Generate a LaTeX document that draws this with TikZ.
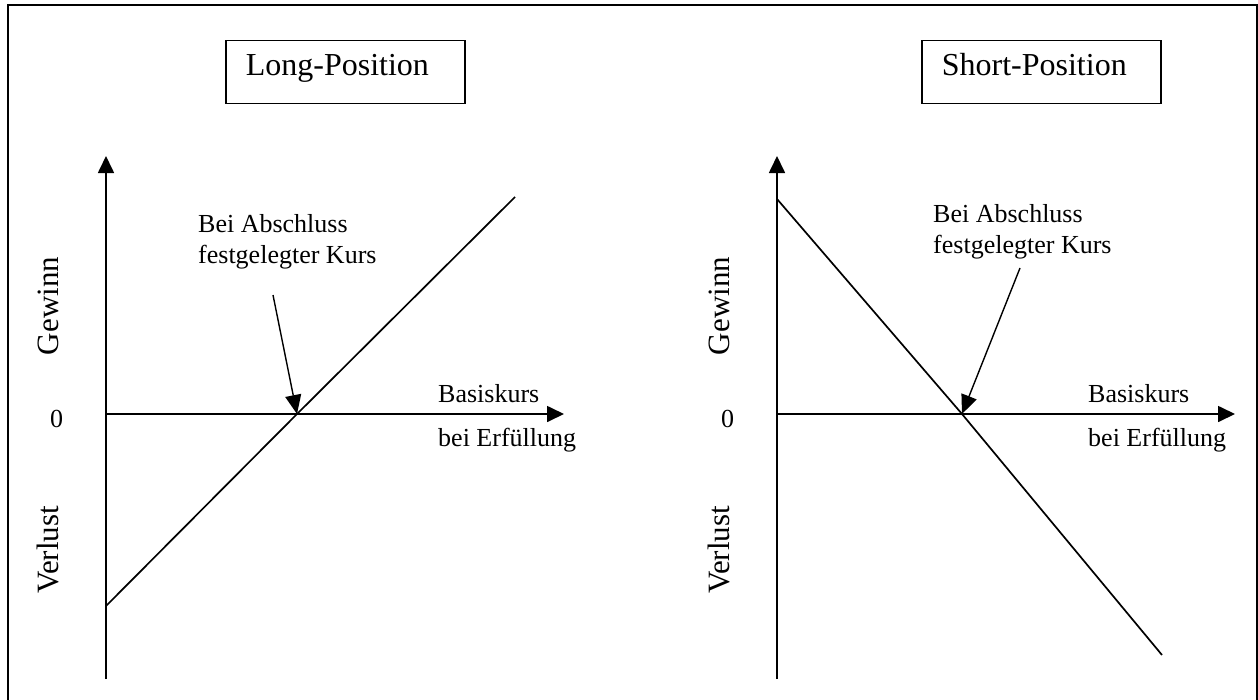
\documentclass[tikz,border=0pt]{standalone}
\usepackage{fontspec}
\setmainfont{Liberation Serif}
\usetikzlibrary{arrows.meta}
\begin{document}
\begin{tikzpicture}[x=1pt,y=-1pt,
  axis/.style={line width=1.7pt,-{Triangle[length=17pt,width=16pt]}},
  graph/.style={line width=1.7pt},
  pointer/.style={line width=1.4pt,-{Triangle[length=19pt,width=16pt]}},
  titlebox/.style={draw,line width=1.7pt,anchor=north west,
    text width=199pt,align=left,inner xsep=20pt,inner ysep=0pt,
    text height=35pt,text depth=28pt,
    font=\fontsize{32}{36}\selectfont},
  lbl/.style={font=\fontsize{26}{31}\selectfont,inner sep=0pt},
  axlbl/.style={font=\fontsize{31}{36}\selectfont,inner sep=0pt,rotate=90}]
\useasboundingbox (0,0) rectangle (1258,699);
\fill[white] (0,0) rectangle (1258,699);

% outer frame
\draw[line width=2pt] (8,710) -- (8,5) -- (1257,5) -- (1257,710);

% ---------- long position ----------
\node[titlebox] (ltitle) at (225,39.5) {Long-Position};
\coordinate (lbot) at (106,679);
\coordinate (ltop) at (106,156);
\coordinate (lorig) at (106,414);
\coordinate (lxend) at (564,414);
\draw[axis] (lbot) -- (ltop);
\draw[axis] (lorig) -- (lxend);
\coordinate (lstart) at (106,606);
\coordinate (lcross) at (297,414);
\coordinate (lend) at (515,197);
\draw[graph] (lstart) -- (lcross) -- (lend);
\node[lbl,anchor=base west] (lnote1) at (198,232) {Bei Abschluss};
\node[lbl,anchor=base west] (lnote2) at (198,263) {festgelegter Kurs};
\coordinate (lptr) at (273,295);
\draw[pointer] (lptr) -- (lcross);
\node[lbl,anchor=base west] (lbasis) at (438,402) {Basiskurs};
\node[lbl,anchor=base west] (lerf) at (438,446) {bei Erfüllung};
\node[lbl,anchor=base west] (lzero) at (50,427) {0};
\node[axlbl] (lgew) at (48,306) {Gewinn};
\node[axlbl] (lver) at (48,550) {Verlust};

% ---------- short position ----------
\node[titlebox] (stitle) at (921,39.5) {Short-Position};
\coordinate (sbot) at (777,679);
\coordinate (stop) at (777,156);
\coordinate (sorig) at (777,414);
\coordinate (sxend) at (1235,414);
\draw[axis] (sbot) -- (stop);
\draw[axis] (sorig) -- (sxend);
\coordinate (sstart) at (777,199);
\coordinate (scross) at (962,414);
\coordinate (send) at (1162,655);
\draw[graph] (sstart) -- (scross) -- (send);
\node[lbl,anchor=base west] (snote1) at (933,222) {Bei Abschluss};
\node[lbl,anchor=base west] (snote2) at (933,253) {festgelegter Kurs};
\coordinate (sptr) at (1020,268);
\draw[pointer] (sptr) -- (scross);
\node[lbl,anchor=base west] (sbasis) at (1088,402) {Basiskurs};
\node[lbl,anchor=base west] (serf) at (1088,446) {bei Erfüllung};
\node[lbl,anchor=base west] (szero) at (721,427) {0};
\node[axlbl] (sgew) at (719,306) {Gewinn};
\node[axlbl] (sver) at (719,550) {Verlust};
\end{tikzpicture}
\end{document}
